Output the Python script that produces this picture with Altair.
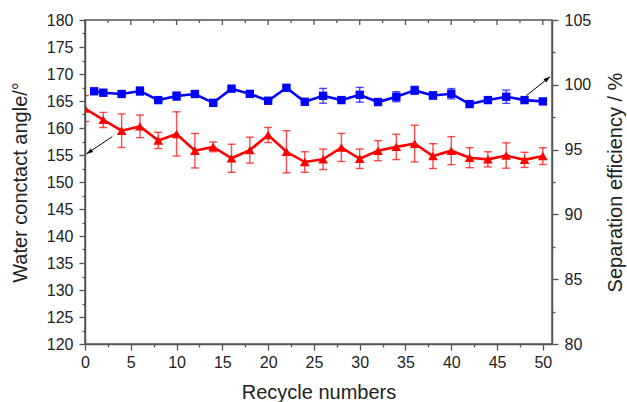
import altair as alt
import pandas as pd

# ---------------- data ----------------
red_x = list(range(0, 51, 2))
red_y = [163.6, 161.5, 159.5, 160.3, 157.7, 158.9, 155.8, 156.5, 154.4, 155.9,
         158.7, 155.6, 153.7, 154.2, 156.4, 154.3, 155.8, 156.5, 157.1, 154.8,
         155.8, 154.5, 154.2, 154.9, 154.1, 154.8]
red_err = [2.4, 1.4, 3.1, 2.1, 1.5, 4.1, 3.2, 0.9, 2.6, 2.4,
           1.4, 3.9, 1.9, 1.9, 2.6, 1.8, 1.85, 2.35, 3.4, 2.3,
           2.6, 1.85, 1.4, 2.35, 1.4, 1.55]

blue_x = [1] + list(range(2, 51, 2))
blue_y = [99.5, 99.39, 99.29, 99.52, 98.82, 99.13, 99.29, 98.61, 99.70, 99.30,
          98.77, 99.77, 98.69, 99.15, 98.82, 99.23, 98.67, 99.08, 99.57, 99.18,
          99.31, 98.51, 98.82, 99.08, 98.82, 98.72]
blue_err = [0.0, 0.0, 0.1, 0.32, 0.05, 0.32, 0.15, 0.05, 0.08, 0.05,
            0.05, 0.08, 0.05, 0.57, 0.1, 0.57, 0.08, 0.39, 0.31, 0.28,
            0.4, 0.05, 0.08, 0.51, 0.05, 0.05]

x_ticks = [i * 2.5 for i in range(21)]
left_ticks = [120 + i * 2.5 for i in range(25)]
right_ticks = [80 + i * 2.5 for i in range(11)]

# arrow annotations (in recycle-number / contact-angle units)
arrow_x = [2.98, 48.2]
arrow_y = [158.4, 166.0]
arrow_x2 = [0.15, 50.8]
arrow_y2 = [155.2, 169.5]
arrow_angle = [237, 52]

red_df = pd.DataFrame({"x": red_x, "v": red_y,
                       "lo": [a - b for a, b in zip(red_y, red_err)],
                       "hi": [a + b for a, b in zip(red_y, red_err)]})
blue_df = pd.DataFrame({"x": blue_x, "v": blue_y,
                        "lo": [a - b for a, b in zip(blue_y, blue_err)],
                        "hi": [a + b for a, b in zip(blue_y, blue_err)]})
arrow_df = pd.DataFrame({"x": arrow_x, "y": arrow_y, "x2": arrow_x2, "y2": arrow_y2,
                         "ang": arrow_angle})
top_major_df = pd.DataFrame({"x": [t for t in x_ticks if t % 5 == 0]})
top_minor_df = pd.DataFrame({"x": [t for t in x_ticks if t % 5 != 0]})

FONT = "Liberation Sans"
AX = "#555555"
TXT = "#222222"
RED = "#ff0000"
BLUE = "#0000ff"

cond_size = {"condition": {"test": "datum.value % 5 === 0", "value": 6}, "value": 3}
label_expr = "datum.value % 5 === 0 ? toString(datum.value) : ''"

common_axis = dict(grid=False, labelFont=FONT, titleFont=FONT, labelFontSize=16,
                   titleFontSize=20, titleFontWeight="normal", labelColor=TXT,
                   titleColor=TXT, domainColor=AX, tickColor=AX, domainWidth=1.5,
                   tickWidth=1.3, tickSize=cond_size, labelExpr=label_expr,
                   labelOverlap=False, labelFlush=False)

x_axis = alt.Axis(title="Recycle numbers", values=x_ticks, orient="bottom",
                  labelPadding=4, titlePadding=12, **common_axis)
left_axis = alt.Axis(title="Water conctact angle/°", values=left_ticks, orient="left",
                     labelPadding=6, titlePadding=16, **common_axis)
right_axis = alt.Axis(title="Separation efficiency / %", values=right_ticks, orient="right",
                      labelPadding=6, titlePadding=15, titleAngle=270,
                      titleBaseline="top", **common_axis)

xs = alt.Scale(domain=[0, 51], nice=False, zero=False)
ls = alt.Scale(domain=[120, 180], nice=False, zero=False)
rs = alt.Scale(domain=[80, 105], nice=False, zero=False)

X = alt.X("x:Q", scale=xs, axis=x_axis)


def YL(f):
    return alt.Y(f, scale=ls, axis=left_axis)


def YR(f):
    return alt.Y(f, scale=rs, axis=right_axis)


# ---------- left (red) group ----------
rc = alt.Chart(red_df)
red_err_rule = rc.mark_rule(color=RED, opacity=0.7, strokeWidth=1.4, clip=True).encode(
    x=X, y=YL("lo:Q"), y2="hi:Q")
red_cap_lo = rc.mark_tick(color=RED, opacity=0.7, orient="horizontal", size=8,
                          thickness=1.4, clip=True).encode(x=X, y=YL("lo:Q"))
red_cap_hi = rc.mark_tick(color=RED, opacity=0.7, orient="horizontal", size=8,
                          thickness=1.4, clip=True).encode(x=X, y=YL("hi:Q"))
red_line = rc.mark_line(color=RED, strokeWidth=2.6, clip=True).encode(x=X, y=YL("v:Q"))
red_pts = rc.mark_point(shape="triangle-up", filled=True, size=95, color=RED,
                        opacity=1, clip=True).encode(x=X, y=YL("v:Q"))

ac = alt.Chart(arrow_df)
arrow_line = ac.mark_rule(color="black", strokeWidth=1).encode(
    x=X, y=YL("y:Q"), x2="x2:Q", y2="y2:Q")
arrow_head = ac.mark_point(shape="M0,0L-0.33,1L0.33,1Z", filled=True, size=180,
                           color="black", opacity=1).encode(
    x=alt.X("x2:Q", scale=xs, axis=x_axis), y=YL("y2:Q"),
    angle=alt.Angle("ang:Q", scale=None))

top_major = alt.Chart(top_major_df).mark_rule(color=AX, strokeWidth=1.3).encode(
    x=X, y=alt.value(0), y2=alt.value(5))
top_minor = alt.Chart(top_minor_df).mark_rule(color=AX, strokeWidth=1.3).encode(
    x=X, y=alt.value(0), y2=alt.value(3))

left = alt.layer(red_err_rule, red_cap_lo, red_cap_hi, red_line, red_pts,
                 arrow_line, arrow_head, top_major, top_minor)

# ---------- right (blue) group ----------
bc = alt.Chart(blue_df)
blue_err_rule = bc.mark_rule(color=BLUE, opacity=0.7, strokeWidth=1.4, clip=True).encode(
    x=X, y=YR("lo:Q"), y2="hi:Q")
blue_cap_lo = bc.mark_tick(color=BLUE, opacity=0.7, orient="horizontal", size=8,
                           thickness=1.4, clip=True).encode(x=X, y=YR("lo:Q"))
blue_cap_hi = bc.mark_tick(color=BLUE, opacity=0.7, orient="horizontal", size=8,
                           thickness=1.4, clip=True).encode(x=X, y=YR("hi:Q"))
blue_line = bc.mark_line(color=BLUE, strokeWidth=2.6, clip=True).encode(x=X, y=YR("v:Q"))
blue_pts = bc.mark_point(shape="square", filled=True, size=70, color=BLUE,
                         opacity=1, clip=True).encode(x=X, y=YR("v:Q"))

right = alt.layer(blue_err_rule, blue_cap_lo, blue_cap_hi, blue_line, blue_pts)

chart = alt.layer(left, right).resolve_scale(y="independent").properties(
    width=467, height=324,
    autosize=alt.AutoSizeParams(type="none"),
    padding={"left": 85, "top": 20, "right": 75, "bottom": 58},
    background="white",
).configure_view(stroke=AX, strokeWidth=1.5)

chart.save("out.html", embed_options={"renderer": "svg", "actions": False})
